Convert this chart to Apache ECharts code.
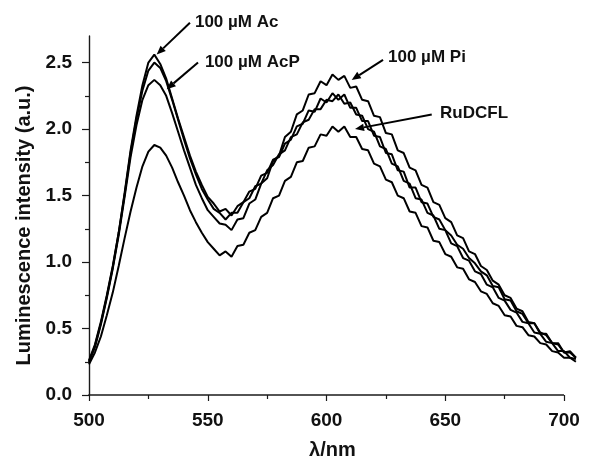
<!DOCTYPE html>
<html><head><meta charset="utf-8">
<script src="https://cdn.jsdelivr.net/npm/echarts@6/dist/echarts.min.js"></script>
<style>html,body{margin:0;padding:0;background:#fff}#c{width:596px;height:459px}</style>
</head><body><div id="c"></div>
<script>
const wavelengths = [500,502.5,505,507.5,510,512.5,515,517.5,520,522.5,525,527.5,530,532.5,535,537.5,540,542.5,545,547.5,550,552.5,555,557.5,560,562.5,565,567.5,570,572.5,575,577.5,580,582.5,585,587.5,590,592.5,595,597.5,600,602.5,605,607.5,610,612.5,615,617.5,620,622.5,625,627.5,630,632.5,635,637.5,640,642.5,645,647.5,650,652.5,655,657.5,660,662.5,665,667.5,670,672.5,675,677.5,680,682.5,685,687.5,690,692.5,695,697.5,700,702.5,705];
const ac = [0.25,0.37,0.54,0.74,0.96,1.22,1.52,1.84,2.10,2.33,2.50,2.56,2.49,2.38,2.23,2.08,1.94,1.80,1.68,1.58,1.49,1.44,1.38,1.40,1.35,1.42,1.45,1.53,1.55,1.65,1.67,1.77,1.79,1.89,1.92,2.02,2.04,2.14,2.13,2.23,2.20,2.27,2.22,2.26,2.16,2.16,2.06,2.06,1.95,1.94,1.82,1.81,1.69,1.68,1.56,1.56,1.45,1.44,1.34,1.32,1.24,1.20,1.13,1.10,1.03,0.99,0.93,0.90,0.82,0.81,0.72,0.71,0.63,0.61,0.54,0.54,0.46,0.46,0.39,0.39,0.32,0.33,0.28];
const acp = [0.26,0.38,0.55,0.75,0.97,1.22,1.51,1.82,2.08,2.29,2.44,2.50,2.46,2.36,2.22,2.07,1.92,1.78,1.66,1.55,1.47,1.40,1.37,1.32,1.37,1.37,1.45,1.48,1.57,1.59,1.69,1.73,1.81,1.84,1.94,1.96,2.05,2.07,2.15,2.15,2.22,2.21,2.26,2.19,2.20,2.11,2.10,2.00,1.98,1.87,1.85,1.74,1.72,1.61,1.59,1.48,1.47,1.37,1.35,1.25,1.24,1.14,1.12,1.03,1.01,0.93,0.91,0.83,0.81,0.73,0.71,0.64,0.62,0.55,0.54,0.47,0.46,0.40,0.39,0.33,0.33,0.28,0.27];
const pi = [0.25,0.36,0.53,0.73,0.95,1.20,1.49,1.79,2.03,2.22,2.33,2.37,2.33,2.25,2.12,1.98,1.84,1.71,1.58,1.48,1.39,1.34,1.29,1.28,1.24,1.32,1.33,1.44,1.47,1.59,1.63,1.76,1.80,1.94,1.98,2.11,2.14,2.26,2.27,2.36,2.33,2.41,2.37,2.40,2.31,2.32,2.22,2.21,2.10,2.09,1.97,1.96,1.84,1.82,1.71,1.69,1.58,1.56,1.45,1.43,1.33,1.30,1.20,1.18,1.08,1.06,0.97,0.94,0.86,0.83,0.75,0.73,0.65,0.63,0.55,0.54,0.47,0.45,0.39,0.38,0.32,0.32,0.28];
const rudcfl = [0.23,0.32,0.44,0.60,0.77,0.97,1.18,1.38,1.56,1.72,1.83,1.88,1.86,1.80,1.71,1.60,1.50,1.39,1.30,1.22,1.15,1.10,1.05,1.08,1.04,1.12,1.13,1.22,1.24,1.34,1.37,1.48,1.50,1.61,1.64,1.75,1.76,1.86,1.87,1.96,1.95,2.02,1.98,2.02,1.94,1.94,1.85,1.84,1.74,1.72,1.62,1.60,1.50,1.48,1.38,1.37,1.27,1.26,1.16,1.15,1.06,1.04,0.96,0.95,0.87,0.85,0.78,0.76,0.69,0.67,0.60,0.59,0.52,0.51,0.45,0.44,0.39,0.38,0.33,0.32,0.28,0.28,0.25];
const seriesNames = ['100 µM Ac','100 µM AcP','100 µM Pi','RuDCFL'];
const xTicks = [500,550,600,650,700];
const xMinorTicks = [525,575,625,675];
const yTicks = [0,0.5,1.0,1.5,2.0,2.5];
const yMinorTicks = [0.25,0.75,1.25,1.75,2.25];
const annotations = [
  {text:'100 µM Ac',  label:[544.6,2.80], from:[542.5,2.80], to:[528.5,2.56]},
  {text:'100 µM AcP', label:[548.8,2.50], from:[545.9,2.50], to:[532.7,2.30]},
  {text:'100 µM Pi',  label:[625.9,2.54], from:[623.8,2.52], to:[610.6,2.37]},
  {text:'RuDCFL',     label:[647.8,2.12], from:[644.3,2.11], to:[612.0,2.00]}
];

const FONT = '"Liberation Sans", Arial, sans-serif';
const chart = echarts.init(document.getElementById('c'), null, {renderer:'canvas'});
const allValues = [ac, acp, pi, rudcfl];
const axisColor = '#1a1a1a';
const tickStyle = {color:axisColor,width:1.2};
chart.setOption({
  animation:false,
  backgroundColor:'#fff',
  grid:{left:89,right:20.1,top:36,bottom:64,containLabel:false,outerBoundsMode:'none'},
  xAxis:[{
    type:'value',min:500,max:705,position:'bottom',
    axisLine:{show:false},
    axisTick:{show:true,inside:false,length:6,customValues:xTicks,lineStyle:tickStyle},
    splitLine:{show:false},
    axisLabel:{customValues:xTicks,fontFamily:FONT,fontWeight:'bold',fontSize:19,color:'#111',margin:16},
    name:'λ/nm',nameLocation:'middle',nameGap:45,
    nameTextStyle:{fontFamily:FONT,fontWeight:'bold',fontSize:20,color:'#111'}
  },{
    type:'value',min:500,max:705,position:'bottom',
    axisLine:{show:false},
    axisTick:{show:true,inside:false,length:4,customValues:xMinorTicks,lineStyle:tickStyle},
    axisLabel:{show:false},splitLine:{show:false}
  }],
  yAxis:[{
    type:'value',min:0,max:2.7,interval:0.5,
    axisLine:{show:true,lineStyle:{color:axisColor,width:1.4}},
    axisTick:{show:true,inside:false,length:7,customValues:yTicks,lineStyle:tickStyle},
    splitLine:{show:false},
    axisLabel:{customValues:yTicks,formatter:v=>Number(v).toFixed(1),fontFamily:FONT,fontWeight:'bold',fontSize:19,color:'#111',margin:17},
    name:'Luminescence intensity (a.u.)',nameLocation:'middle',nameGap:53,
    nameTextStyle:{fontFamily:FONT,fontWeight:'bold',fontSize:20,color:'#111',padding:[0,20,0,0]}
  },{
    type:'value',min:0,max:2.7,interval:0.5,position:'left',offset:0,
    axisLine:{show:false},
    axisTick:{show:true,inside:false,length:4,customValues:yMinorTicks,lineStyle:tickStyle},
    axisLabel:{show:false},splitLine:{show:false}
  }],
  series: allValues.map((vals,k)=>({
    name:seriesNames[k],type:'line',showSymbol:false,xAxisIndex:0,yAxisIndex:0,
    lineStyle:{color:'#000',width:2},
    data: wavelengths.map((w,i)=>[w, vals[i]])
  }))
});

function px(p){ return chart.convertToPixel({xAxisIndex:0,yAxisIndex:0}, p); }
const graphics = [];
const a0 = px([xTicks[0],0]), a1 = px([xTicks[xTicks.length-1],0]);
graphics.push({type:'line',z:5,shape:{x1:a0[0]-0.7,y1:a0[1],x2:a1[0],y2:a1[1]},style:{stroke:axisColor,lineWidth:1.4}});
annotations.forEach(a=>{
  const L = px(a.label), F = px(a.from), T = px(a.to);
  graphics.push({type:'text',x:L[0],y:L[1],style:{text:a.text,fill:'#111',font:'bold 17px '+FONT,textVerticalAlign:'middle',textAlign:'left'}});
  const dx=T[0]-F[0], dy=T[1]-F[1], len=Math.hypot(dx,dy), ux=dx/len, uy=dy/len;
  const hl=9, hw=3.8;
  const bx=T[0]-ux*hl, by=T[1]-uy*hl;
  graphics.push({type:'line',shape:{x1:F[0],y1:F[1],x2:bx,y2:by},style:{stroke:'#000',lineWidth:2}});
  graphics.push({type:'polygon',shape:{points:[[T[0],T[1]],[bx-uy*hw,by+ux*hw],[bx+uy*hw,by-ux*hw]]},style:{fill:'#000'}});
});
chart.setOption({graphic:graphics});
</script></body></html>
